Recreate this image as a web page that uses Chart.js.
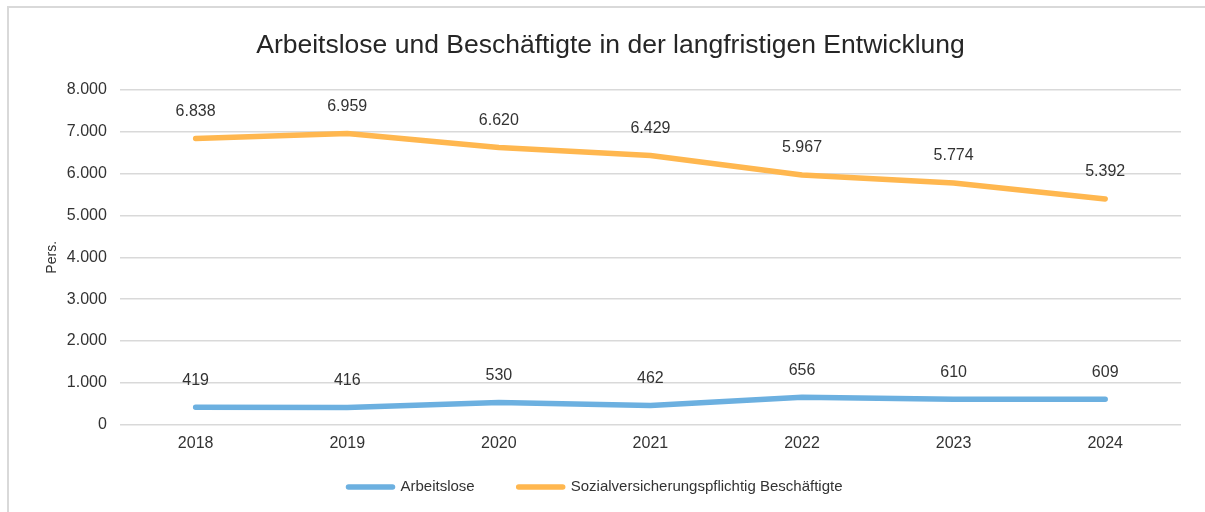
<!DOCTYPE html>
<html lang="de">
<head>
<meta charset="utf-8">
<script src="https://cdn.jsdelivr.net/npm/chart.js@4.4.1/dist/chart.umd.min.js"></script>
<style>
    html, body { margin: 0; padding: 0; background: #fff; }
    #rahmen {
        position: absolute;
        left: 7px;
        top: 6px;
        width: 1198px;
        height: 506px;
        border-left: 2px solid #d9d9d9;
        border-top: 2px solid #d9d9d9;
        box-sizing: border-box;
    }
    #chartBox { position: absolute; left: 0; top: 0; width: 1196px; height: 504px; }
</style>
</head>
<body>
<div id="rahmen">
    <div id="chartBox"><canvas id="entwicklungChart"></canvas></div>
</div>
<script>
const jahre = ['2018', '2019', '2020', '2021', '2022', '2023', '2024'];
const arbeitslose = [419, 416, 530, 462, 656, 610, 609];
const beschaeftigte = [6838, 6959, 6620, 6429, 5967, 5774, 5392];
const yTicks = [0, 1000, 2000, 3000, 4000, 5000, 6000, 7000, 8000];

const blau = '#6cb0e0';
const orange = '#ffb74f';
const schrift = '"Liberation Sans", Arial, sans-serif';

// Zahlen mit Tausenderpunkt
function formatZahl(n) {
    return String(Math.round(n)).replace(/\B(?=(\d{3})+(?!\d))/g, '.');
}

// Werte ueber die Punkte schreiben
const werteBeschriftung = {
    id: 'werteBeschriftung',
    afterDatasetsDraw(chart) {
        const ctx = chart.ctx;
        ctx.save();
        ctx.font = '16px ' + schrift;
        ctx.fillStyle = '#333333';
        ctx.textAlign = 'center';
        ctx.textBaseline = 'middle';
        chart.data.datasets.forEach((ds, i) => {
            const meta = chart.getDatasetMeta(i);
            meta.data.forEach((pt, j) => {
                ctx.fillText(formatZahl(ds.data[j]), pt.x, pt.y - 27);
            });
        });
        ctx.restore();
    }
};

// Legende unten: kurze Linie + Name, enger als die Standardlegende
const legendeUnten = {
    id: 'legendeUnten',
    afterDraw(chart) {
        const ctx = chart.ctx;
        const linie = 50;
        const abstand = 5;
        const luecke = 41;
        ctx.save();
        ctx.font = '15px ' + schrift;
        const eintraege = chart.data.datasets.map(ds => ({
            farbe: ds.borderColor,
            text: ds.label,
            breite: ctx.measureText(ds.label).width
        }));
        const gesamt = eintraege.reduce((s, e) => s + linie + abstand + e.breite, 0) + luecke * (eintraege.length - 1);
        let x = chart.width / 2 - gesamt / 2 - 13;
        const y = chart.height - 25;
        ctx.textBaseline = 'middle';
        ctx.textAlign = 'left';
        ctx.lineCap = 'round';
        ctx.lineWidth = 5.5;
        eintraege.forEach(e => {
            ctx.strokeStyle = e.farbe;
            ctx.beginPath();
            ctx.moveTo(x + 3, y);
            ctx.lineTo(x + linie - 3, y);
            ctx.stroke();
            ctx.fillStyle = '#333333';
            ctx.fillText(e.text, x + linie + abstand, y);
            x += linie + abstand + e.breite + luecke;
        });
        ctx.restore();
    }
};

const ctx = document.getElementById('entwicklungChart').getContext('2d');
new Chart(ctx, {
    type: 'line',
    data: {
        labels: jahre,
        datasets: [
            {
                label: 'Arbeitslose',
                data: arbeitslose,
                borderColor: blau,
                backgroundColor: blau,
                borderWidth: 5.5,
                borderCapStyle: 'round',
                borderJoinStyle: 'round',
                pointRadius: 0,
                tension: 0
            },
            {
                label: 'Sozialversicherungspflichtig Beschäftigte',
                data: beschaeftigte,
                borderColor: orange,
                backgroundColor: orange,
                borderWidth: 5.5,
                borderCapStyle: 'round',
                borderJoinStyle: 'round',
                pointRadius: 0,
                tension: 0
            }
        ]
    },
    options: {
        responsive: true,
        maintainAspectRatio: false,
        animation: false,
        layout: { padding: { left: 31, right: 24, top: 10, bottom: 50 } },
        plugins: {
            title: {
                display: true,
                text: 'Arbeitslose und Beschäftigte in der langfristigen Entwicklung',
                color: '#262626',
                font: { family: schrift, size: 26.5, weight: 'normal' },
                padding: { top: 12, bottom: 28 }
            },
            legend: { display: false },
            tooltip: { enabled: false }
        },
        scales: {
            x: {
                offset: true,
                grid: { display: false, drawTicks: false },
                border: { display: false },
                ticks: {
                    color: '#333333',
                    font: { family: schrift, size: 16 },
                    padding: 9
                }
            },
            y: {
                min: 0,
                max: 8000,
                afterBuildTicks(axis) {
                    axis.ticks = yTicks.map(v => ({ value: v }));
                },
                afterFit(axis) {
                    axis.width -= 16;
                },
                grid: { color: '#d9d9d9', lineWidth: 1.5, drawTicks: false },
                border: { display: false },
                title: {
                    display: true,
                    text: 'Pers.',
                    color: '#333333',
                    font: { family: schrift, size: 14 },
                    padding: { top: 4, bottom: 9 }
                },
                ticks: {
                    color: '#333333',
                    font: { family: schrift, size: 16 },
                    padding: 13,
                    callback: v => formatZahl(v)
                }
            }
        }
    },
    plugins: [werteBeschriftung, legendeUnten]
});
</script>
</body>
</html>
